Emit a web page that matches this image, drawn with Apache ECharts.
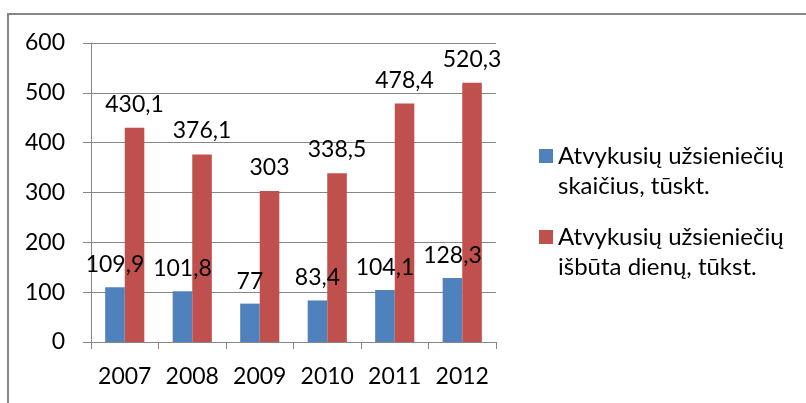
<!DOCTYPE html>
<html>
<head>
<meta charset="utf-8">
<script src="https://cdn.jsdelivr.net/npm/echarts@6/dist/echarts.min.js"></script>
<style>
  html, body { margin: 0; padding: 0; background: #fff; }
  #chart { width: 806px; height: 403px; }
</style>
</head>
<body>
<div id="chart"></div>
<script>
// ──── data ────
const years = ['2007', '2008', '2009', '2010', '2011', '2012'];
const arrivals = [109.9, 101.8, 77, 83.4, 104.1, 128.3];
const daysSpent = [430.1, 376.1, 303, 338.5, 478.4, 520.3];
const seriesNames = [
    'Atvykusių užsieniečių\nskaičius, tūskt.',
    'Atvykusių užsieniečių\nišbūta dienų, tūkst.',
];

const FONT = 'Lato';
const GRAY = '#868686';
const LH = 30;

const chart = echarts.init(document.getElementById('chart'), null, { renderer: 'canvas' });

// 逗号小数点
const fmt = p => String(p.value).replace('.', ',');

// 图例：图标与第一行文字对齐（前面加空行，居中时第一行落在图标中线上）
function legendAt(name, iconCenter) {
    return {
        data: [name],
        orient: 'vertical',
        left: 539,
        top: iconCenter - LH * 1.5,
        padding: 0,
        itemWidth: 14,
        itemHeight: 14,
        icon: 'rect',
        selectedMode: false,
        formatter: n => '\n' + n,
        textStyle: { fontFamily: FONT, fontSize: 24, color: '#000', lineHeight: LH },
    };
}

chart.setOption({
    animation: false,
    color: ['#4F81BD', '#C0504D'],
    graphic: [{
        type: 'rect',
        shape: { x: 8, y: 14, width: 900, height: 500 },
        style: { fill: 'none', stroke: GRAY, lineWidth: 2 },
        silent: true,
    }],
    legend: [
        legendAt(seriesNames[0], 156),
        legendAt(seriesNames[1], 237),
    ],
    grid: { left: 91, right: 310, top: 43, bottom: 61, containLabel: false },
    xAxis: {
        type: 'category',
        data: years,
        axisLine: { lineStyle: { color: GRAY, width: 1 } },
        axisTick: { show: true, alignWithLabel: false, interval: 0, length: 7, lineStyle: { color: GRAY } },
        axisLabel: { interval: 0, fontFamily: FONT, fontSize: 23, color: '#000', margin: 23 },
    },
    yAxis: {
        type: 'value',
        min: 0, max: 600, interval: 100,
        axisLine: { show: true, lineStyle: { color: GRAY, width: 1 } },
        axisTick: { show: true, length: 8, lineStyle: { color: GRAY } },
        splitLine: { lineStyle: { color: GRAY, width: 1 } },
        axisLabel: { fontFamily: FONT, fontSize: 23, color: '#000', margin: 26 },
    },
    series: [
        {
            name: seriesNames[0],
            type: 'bar',
            data: arrivals,
            barGap: '0%',
            barCategoryGap: '42%',
            label: { show: true, position: 'top', distance: 11, formatter: fmt,
                fontFamily: FONT, fontSize: 23, color: '#000' },
        },
        {
            name: seriesNames[1],
            type: 'bar',
            data: daysSpent,
            barGap: '0%',
            barCategoryGap: '42%',
            label: { show: true, position: 'top', distance: 12, formatter: fmt,
                fontFamily: FONT, fontSize: 23, color: '#000' },
        },
    ],
});
</script>
</body>
</html>
